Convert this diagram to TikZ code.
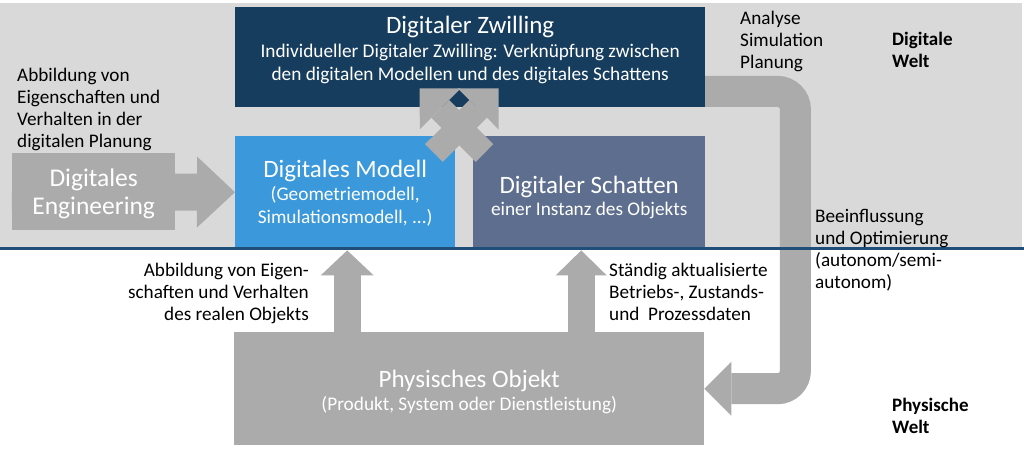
\documentclass[tikz,border=0pt]{standalone}
\usepackage{fontspec}
\setmainfont{Carlito}
\usetikzlibrary{arrows.meta, calc}
\definecolor{bggray}{HTML}{D9D9D9}
\definecolor{zwnavy}{HTML}{163D5D}
\definecolor{modblue}{HTML}{3A98DB}
\definecolor{schslate}{HTML}{5E6E8E}
\definecolor{arrgray}{HTML}{ABABAB}
\definecolor{linenavy}{HTML}{1F4E79}

\begin{document}
\begin{tikzpicture}[x=1pt, y=-1pt,
    box/.style={draw=none, inner sep=0, anchor=north west},
    ttl/.style={text=white, font=\fontsize{25}{28}\selectfont, inner sep=0, anchor=base},
    sub/.style={text=white, font=\fontsize{19.3}{22.5}\selectfont, align=center, inner sep=0, anchor=base},
    lbl/.style={font=\fontsize{19.2}{21.7}\selectfont, align=left, inner sep=0, anchor=base west},
    welt/.style={lbl, font=\fontsize{19}{22}\selectfont\bfseries},
    barrow/.style={draw=arrgray, line width=#1}
]
    \useasboundingbox (0,0) rectangle (1024,450);
    \fill[bggray] (0,3) rectangle (1022,247);

    % boxes
    \node[box, fill=zwnavy, minimum width=470pt, minimum height=100pt] (zw) at (235,7) {};
    \node[box, fill=modblue, minimum width=220pt, minimum height=112pt] (mod) at (235,136) {};
    \node[box, fill=schslate, minimum width=232pt, minimum height=112pt] (sch) at (473,136) {};
    \node[box, fill=arrgray, minimum width=470pt, minimum height=113pt] (phys) at (234,332) {};

    % engineering arrow
    \draw[barrow=37pt, -{Triangle[width=71pt, length=38pt, line width=0pt]}] (12,191.5) -- (mod.west);
    \node[box, fill=arrgray, minimum width=163pt, minimum height=77pt] (eng) at (12,153) {};

    % analyse / beeinflussung loop
    \draw[barrow=31pt, rounded corners=18pt, -{Triangle[width=54pt, length=27pt, line width=0pt]}]
        ($(zw.south east)+(-2,-16)$) -| ($(phys.east)+(91,0)$) -- (phys.east);
    \node[box, fill=zwnavy, minimum width=470pt, minimum height=100pt] at (235,7) {};

    % crossing arrows
    \draw[barrow=25pt, -{Triangle[width=58pt, length=29pt, line width=0pt]}]
        ($(mod.north east)+(-21.5,17)$) -- ($(zw.south)+(28.5,-19)$);
    \draw[barrow=25pt, -{Triangle[width=58pt, length=29pt, line width=0pt]}]
        ($(sch.north west)+(11.5,17)$) -- ($(zw.south)+(-50.5,-19)$);

    % upward arrows
    \draw[barrow=27pt, -{Triangle[width=53pt, length=25pt, line width=0pt]}]
        ($(phys.north -| mod.south)+(2,1)$) -- ($(mod.south)+(2,2)$);
    \draw[barrow=27pt, -{Triangle[width=51pt, length=25pt, line width=0pt]}]
        ($(phys.north -| sch.south)+(-8,1)$) -- ($(sch.south)+(-8,2)$);

    \draw[linenavy, line width=3pt] (0,248.5) -- (1024,248.5);

    % texts
    \node[ttl] at ($(zw.north)+(0,26)$) {Digitaler Zwilling};
    \node[sub] at ($(zw.north)+(0,73)$) {Individueller Digitaler Zwilling: Verknüpfung zwischen\\den digitalen Modellen und des digitales Schattens};
    \node[ttl] at ($(mod.north)+(0,41)$) {Digitales Modell};
    \node[sub] at ($(mod.north)+(0,87)$) {(Geometriemodell,\\Simulationsmodell, ...)};
    \node[ttl] at ($(sch.north)+(0,57)$) {Digitaler Schatten};
    \node[sub] at ($(sch.north)+(0,79)$) {einer Instanz des Objekts};
    \node[ttl, font=\fontsize{25.5}{28}\selectfont, align=center] at ($(eng.north)+(0,61)$) {Digitales\\Engineering};
    \node[ttl] at ($(phys.north)+(0,55)$) {Physisches Objekt};
    \node[sub] at ($(phys.north)+(0,78)$) {(Produkt, System oder Dienstleistung)};

    \node[lbl] at (17,147) {Abbildung von\\Eigenschaften und\\Verhalten in der\\digitalen Planung};
    \node[lbl] at (740,68) {Analyse\\Simulation\\Planung};
    \node[welt] at (892,67) {Digitale\\Welt};
    \node[lbl] at (815,288) {Beeinflussung\\und Optimierung\\(autonom/semi-\\autonom)};
    \node[welt] at (892,433) {Physische\\Welt};
    \node[lbl, align=right, anchor=base east] at (309,320) {Abbildung von Eigen-\\schaften und Verhalten\\des realen Objekts};
    \node[lbl] at (609,320) {Ständig aktualisierte\\Betriebs-, Zustands-\\und~~Prozessdaten};
\end{tikzpicture}
\end{document}
